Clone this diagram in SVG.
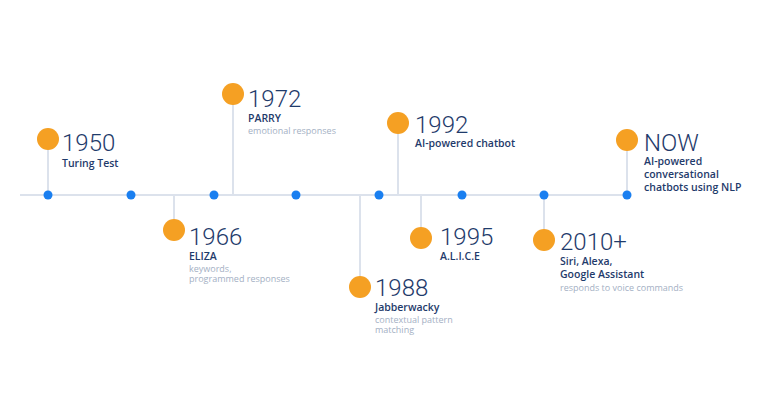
<svg xmlns="http://www.w3.org/2000/svg" width="768" height="420" viewBox="0 0 768 420">
<style>
.ln{stroke:#dce2ec;stroke-width:2;fill:none}
.dot{fill:#1a7ff0}
.oc{fill:#f5a023}
.yr{font-family:Roboto,"Liberation Sans",sans-serif;font-weight:300;font-size:24px;fill:#1f3b6b}
.t{font-family:"Open Sans","Liberation Sans",sans-serif;font-weight:600;font-size:10.5px;fill:#1f3b6b}
.d{font-family:"Open Sans","Liberation Sans",sans-serif;font-size:9px;fill:#a4b0c4}
</style>
<rect width="768" height="420" fill="#fff"/>
<g id="connectors">
<line class="ln" x1="20" y1="195" x2="630" y2="195"/>
<line class="ln" x1="48" y1="139" x2="48" y2="195"/>
<line class="ln" x1="233" y1="94" x2="233" y2="195"/>
<line class="ln" x1="174" y1="195" x2="174" y2="230"/>
<line class="ln" x1="360" y1="195" x2="360" y2="287"/>
<line class="ln" x1="398" y1="123" x2="398" y2="195"/>
<line class="ln" x1="421" y1="195" x2="421" y2="238"/>
<line class="ln" x1="544" y1="195" x2="544" y2="240"/>
<line class="ln" x1="627" y1="140" x2="627" y2="195"/>
</g>
<g id="dots">
<circle class="dot" cx="48" cy="195" r="4.5"/><circle class="dot" cx="131" cy="195" r="4.5"/>
<circle class="dot" cx="214" cy="195" r="4.5"/><circle class="dot" cx="296" cy="195" r="4.5"/>
<circle class="dot" cx="379" cy="195" r="4.5"/><circle class="dot" cx="462" cy="195" r="4.5"/>
<circle class="dot" cx="544" cy="195" r="4.5"/><circle class="dot" cx="627" cy="195" r="4.5"/>
</g>
<g id="n1950"><circle class="oc" cx="48" cy="139" r="11"/><text class="yr" x="62" y="151">1950</text><text class="t" x="62" y="167">Turing Test</text></g>
<g id="n1966"><circle class="oc" cx="174" cy="230" r="11"/><text class="yr" x="189" y="245">1966</text><text class="t" x="189" y="260">ELIZA</text><text class="d" x="189" y="272">keywords,</text><text class="d" x="189" y="282">programmed responses</text></g>
<g id="n1972"><circle class="oc" cx="233" cy="94" r="11"/><text class="yr" x="248" y="107">1972</text><text class="t" x="248" y="122">PARRY</text><text class="d" x="248" y="134">emotional responses</text></g>
<g id="n1988"><circle class="oc" cx="360" cy="287" r="11"/><text class="yr" x="375" y="296">1988</text><text class="t" x="375" y="311">Jabberwacky</text><text class="d" x="375" y="323">contextual pattern</text><text class="d" x="375" y="333">matching</text></g>
<g id="n1992"><circle class="oc" cx="398" cy="123" r="11"/><text class="yr" x="415" y="133">1992</text><text class="t" x="415" y="147">AI-powered chatbot</text></g>
<g id="n1995"><circle class="oc" cx="421" cy="238" r="11"/><text class="yr" x="440" y="245">1995</text><text class="t" x="440" y="260">A.L.I.C.E</text></g>
<g id="n2010"><circle class="oc" cx="544" cy="240" r="11"/><text class="yr" x="560" y="250">2010+</text><text class="t" x="560" y="265">Siri, Alexa,</text><text class="t" x="560" y="278">Google Assistant</text><text class="d" x="560" y="291">responds to voice commands</text></g>
<g id="nNOW"><circle class="oc" cx="627" cy="140" r="11"/><text class="yr" x="644" y="151">NOW</text><text class="t" x="644" y="165">AI-powered</text><text class="t" x="644" y="178">conversational</text><text class="t" x="644" y="191">chatbots using NLP</text></g>
</svg>
